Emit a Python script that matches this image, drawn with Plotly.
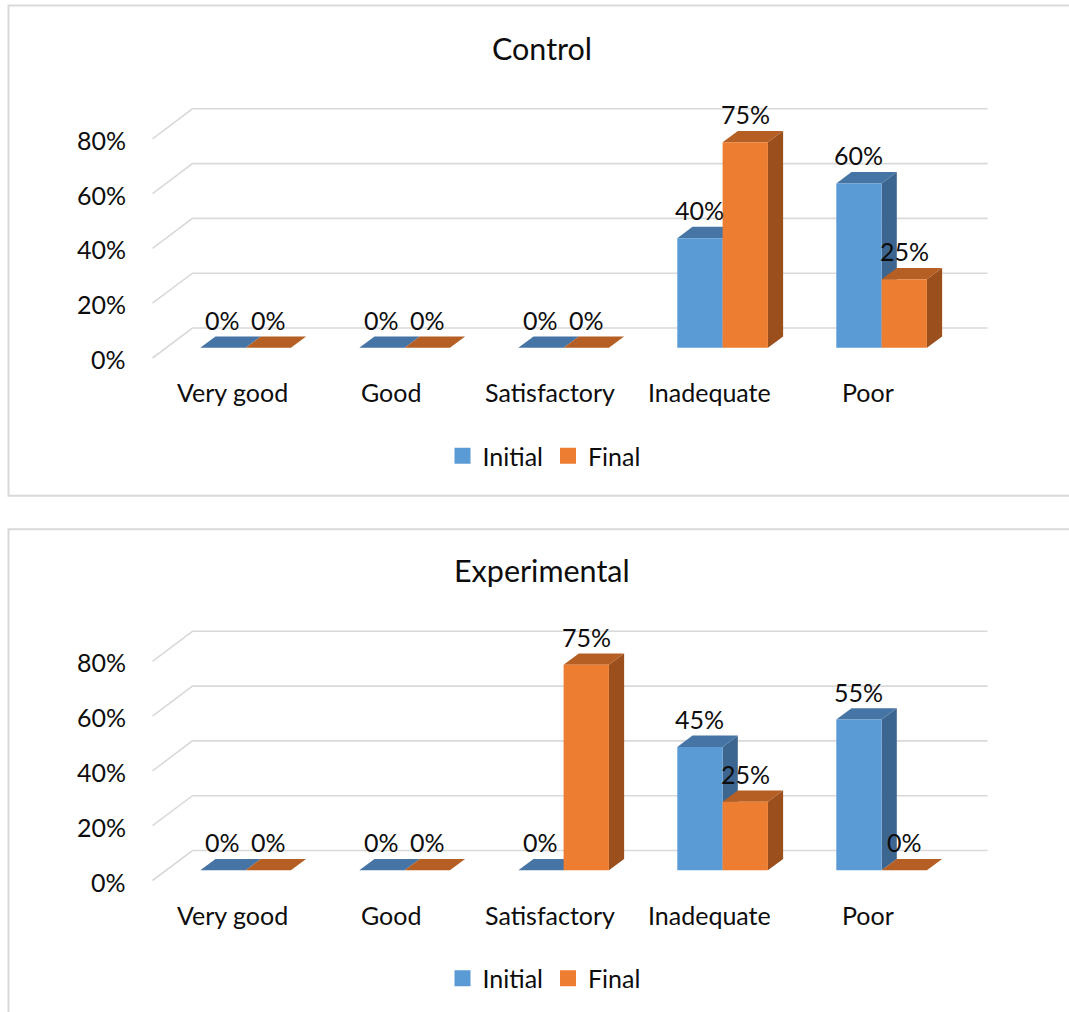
import plotly.graph_objects as go

# ---- data -------------------------------------------------------------
categories = ["Very good", "Good", "Satisfactory", "Inadequate", "Poor"]
series_names = ["Initial", "Final"]
control_initial = [0.00, 0.00, 0.00, 0.40, 0.60]
control_final = [0.00, 0.00, 0.00, 0.75, 0.25]
experimental_initial = [0.00, 0.00, 0.00, 0.45, 0.55]
experimental_final = [0.00, 0.00, 0.75, 0.25, 0.00]
tick_values = [0.0, 0.2, 0.4, 0.6, 0.8]
chart_titles = ["Control", "Experimental"]

# ---- styling / geometry ----------------------------------------------
W, H = 1069, 1012
FONT = "Lato, 'Open Sans', sans-serif"
TEXT = "#0d0d0d"
GRID = "#d9d9d9"
LABEL_SIZE = 25
TITLE_SIZE = 30.5
FACES = {
    "Initial": {"front": "#5b9bd5", "top": "#4675a5", "side": "#3c6590"},
    "Final": {"front": "#ed7d31", "top": "#b55f24", "side": "#9a4f1d"},
}

CAT_PX = 159.0          # pixels per category step
VAL_PX = 274.0          # pixels per 1.0 (=100 %)
CAT0_PX = 232.0         # front-plane pixel x of the first category
DEPTH_X = 40.0 / CAT_PX  # wall depth projected on x (category units)
DEPTH_Y = 30.0 / VAL_PX  # wall depth projected on y (value units)
BAR_W = 0.285
BAR_FRONT = 0.34        # bar front face, as fraction of wall depth
BAR_BACK = 0.72         # bar back face
PLOT_LEFT_PX, PLOT_RIGHT_PX = 140.0, 1000.0
PLOT_TOP_PX, PLOT_BOTTOM_PX = 90.0, 400.0
ZERO_PX = 358.0         # front-plane pixel y of 0 % in the first chart
PANEL_SHIFT = 522.5     # vertical offset of the second chart


def px_x(p):
    return p / W


def px_y(p):
    return 1 - p / H


panels = [
    (chart_titles[0], control_initial, control_final, "x", "y", "legend"),
    (chart_titles[1], experimental_initial, experimental_final, "x2", "y2", "legend2"),
]

fig = go.Figure()
annotations = []
shapes = []
layout_axes = {}

for k, (title, initial, final, xa, ya, leg) in enumerate(panels):
    off = PANEL_SHIFT * k

    # gridlines: diagonal on the side wall, horizontal on the back wall
    gx, gy = [], []
    for v in tick_values:
        gx += [-0.5, -0.5 + DEPTH_X, len(categories) - 0.5 + DEPTH_X, None]
        gy += [v, v + DEPTH_Y, v + DEPTH_Y, None]
    fig.add_trace(go.Scatter(x=gx, y=gy, mode="lines", xaxis=xa, yaxis=ya,
                             line=dict(color=GRID, width=1.6),
                             hoverinfo="skip", showlegend=False))

    # 3-D columns
    dxf, dyf = BAR_FRONT * DEPTH_X, BAR_FRONT * DEPTH_Y
    ddx, ddy = (BAR_BACK - BAR_FRONT) * DEPTH_X, (BAR_BACK - BAR_FRONT) * DEPTH_Y
    for i in range(len(categories)):
        for s, (name, vals) in enumerate(zip(series_names, [initial, final])):
            v = vals[i]
            x0 = i - BAR_W + s * BAR_W + dxf
            x1 = x0 + BAR_W
            yb, yt = dyf, dyf + v
            polys = [
                ("side", [x1, x1, x1 + ddx, x1 + ddx, x1], [yb, yt, yt + ddy, yb + ddy, yb]),
                ("top", [x0, x1, x1 + ddx, x0 + ddx, x0], [yt, yt, yt + ddy, yt + ddy, yt]),
                ("front", [x0, x1, x1, x0, x0], [yb, yb, yt, yt, yb]),
            ]
            for face, px, py in polys:
                if face != "top" and v == 0:
                    continue
                fig.add_trace(go.Scatter(
                    x=px, y=py, mode="lines", fill="toself", xaxis=xa, yaxis=ya,
                    fillcolor=FACES[name][face], line=dict(width=0),
                    hoverinfo="text", text=f"{categories[i]} – {name}: {v:.0%}",
                    showlegend=False))
            annotations.append(dict(
                x=x0 + BAR_W / 2, y=yt, xref=xa, yref=ya, text=f"{v:.0%}",
                showarrow=False, yshift=28, yanchor="middle", xanchor="center",
                font=dict(family=FONT, size=LABEL_SIZE, color=TEXT)))

    # legend entries
    for name in series_names:
        fig.add_trace(go.Scatter(
            x=[None], y=[None], mode="markers", name=name, xaxis=xa, yaxis=ya,
            marker=dict(symbol="square", size=16, color=FACES[name]["front"]),
            legend=leg))

    # value ticks
    for v in tick_values:
        annotations.append(dict(
            x=px_x(128), xref="paper", y=v, yref=ya, text=f"{v:.0%}",
            showarrow=False, xanchor="right", yanchor="middle", yshift=-1,
            font=dict(family=FONT, size=LABEL_SIZE, color=TEXT)))

    # category labels
    for i, c in enumerate(categories):
        annotations.append(dict(
            x=i, xref=xa, y=0, yref=ya, text=c, showarrow=False,
            xanchor="center", yanchor="middle", yshift=-34,
            font=dict(family=FONT, size=LABEL_SIZE, color=TEXT)))

    # chart title
    annotations.append(dict(
        x=px_x(541.7), y=px_y(47.5 + off), xref="paper", yref="paper",
        text=title, showarrow=False, xanchor="center", yanchor="middle",
        font=dict(family=FONT, size=TITLE_SIZE, color=TEXT)))

    # chart frame
    shapes.append(dict(
        type="rect", xref="paper", yref="paper",
        x0=px_x(8.5), x1=px_x(W + 6),
        y0=px_y(5.5) if k == 0 else px_y(529.3),
        y1=px_y(495.7) if k == 0 else px_y(H + 6),
        line=dict(color=GRID, width=2), fillcolor="rgba(0,0,0,0)", layer="below"))

    suffix = "" if k == 0 else "2"
    layout_axes["xaxis" + suffix] = dict(
        domain=[px_x(PLOT_LEFT_PX), px_x(PLOT_RIGHT_PX)],
        range=[(PLOT_LEFT_PX - CAT0_PX) / CAT_PX, (PLOT_RIGHT_PX - CAT0_PX) / CAT_PX],
        anchor=ya, visible=False, fixedrange=True)
    layout_axes["yaxis" + suffix] = dict(
        domain=[px_y(PLOT_BOTTOM_PX + off), px_y(PLOT_TOP_PX + off)],
        range=[(ZERO_PX - PLOT_BOTTOM_PX) / VAL_PX, (ZERO_PX - PLOT_TOP_PX) / VAL_PX],
        anchor=xa, visible=False, fixedrange=True)
    layout_axes[leg] = dict(
        orientation="h", x=px_x(544), y=px_y(456 + off),
        xanchor="center", yanchor="middle", bgcolor="rgba(0,0,0,0)",
        font=dict(family=FONT, size=LABEL_SIZE, color=TEXT), traceorder="normal")

fig.update_layout(
    width=W, height=H, margin=dict(l=0, r=0, t=0, b=0),
    paper_bgcolor="white", plot_bgcolor="rgba(0,0,0,0)",
    annotations=annotations, shapes=shapes, **layout_axes)

fig.write_html("out.html", config={"displayModeBar": False})
